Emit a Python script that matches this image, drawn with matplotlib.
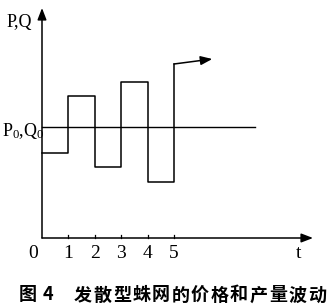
import matplotlib
matplotlib.use("Agg")
import matplotlib.pyplot as plt

plt.rcParams['font.family'] = ['Liberation Serif', 'DejaVu Serif']
plt.rcParams['mathtext.fontset'] = 'custom'
plt.rcParams['mathtext.rm'] = 'Liberation Serif'
plt.rcParams['mathtext.it'] = 'Liberation Serif:italic'

# data: deviation from equilibrium P0/Q0 in each period
periods = [0, 1, 2, 3, 4, 5]
levels = [-2.6, 3.1, -4.0, 4.5, -5.5, 6.3]
arrow_end = (6.45, 6.8)
tick_labels = ['0', '1', '2', '3', '4', '5']
caption = "图 4  发散型蛛网的价格和产量波动"

# pixel layout -> data units (t: 26.4 px, level: 10 px, equilibrium at y=127 px)
W, H = 329, 306
x0px, dx = 42, 26.4
y0px, dy = 127, 10.0

fig = plt.figure(figsize=(W / 100, H / 100), dpi=100)
ax = fig.add_axes([0, 0, 1, 1])
ax.set_xlim(-x0px / dx, (W - x0px) / dx)
ax.set_ylim((y0px - H) / dy, y0px / dy)
ax.axis('off')

y_axis_bottom = (y0px - 238) / dy
y_axis_top = (y0px - 8) / dy
x_axis_end = (313 - x0px) / dx

arrow_kw = dict(arrowstyle='-|>,head_length=0.7,head_width=0.27', color='black', lw=1.1,
                shrinkA=0, shrinkB=0)
# axes
ax.annotate('', xy=(0, y_axis_top), xytext=(0, y_axis_bottom), arrowprops=arrow_kw)
ax.annotate('', xy=(x_axis_end, y_axis_bottom), xytext=(0, y_axis_bottom), arrowprops=arrow_kw)

# ticks
for t in periods[1:]:
    ax.plot([t, t], [y_axis_bottom, y_axis_bottom + 0.35], color='black', lw=0.9)

# equilibrium line
ax.plot([0, (255 - x0px) / dx], [0, 0], color='black', lw=1.0)

# price/quantity path
ax.step(periods, levels, where='post', color='black', lw=1.1)
ax.annotate('', xy=arrow_end, xytext=(periods[-1], levels[-1]), arrowprops=arrow_kw)

# labels
fs = 14
lab_y = (y0px - 253) / dy
for t, s in zip(periods, tick_labels):
    off = -0.35 if t == 0 else 0
    ax.text(t + off, lab_y, s, ha='center', va='center', fontsize=fs)
ax.text((299 - x0px) / dx, lab_y, 't', ha='center', va='center', fontsize=fs)
ax.text((19 - x0px) / dx, (y0px - 23) / dy, 'P,Q', ha='center', va='center', fontsize=13)
ax.text((44 - x0px) / dx, (y0px - 131) / dy, r'$\mathrm{P_0}$,$\mathrm{Q_0}$', ha='right',
        va='center', fontsize=13)

# caption, spread out character by character
cap_y = (y0px - 295) / dy
cap_x = [28, 48] + [83 + 19.5 * i for i in range(13)]
chars = [c for c in caption if c != ' ']
for c, px in zip(chars, cap_x):
    ax.text((px - x0px) / dx, cap_y, c, ha='center', va='center', fontsize=13,
            fontweight='bold', family=['Noto Sans CJK SC', 'DejaVu Sans'])

fig.savefig('out.png', dpi=100)
